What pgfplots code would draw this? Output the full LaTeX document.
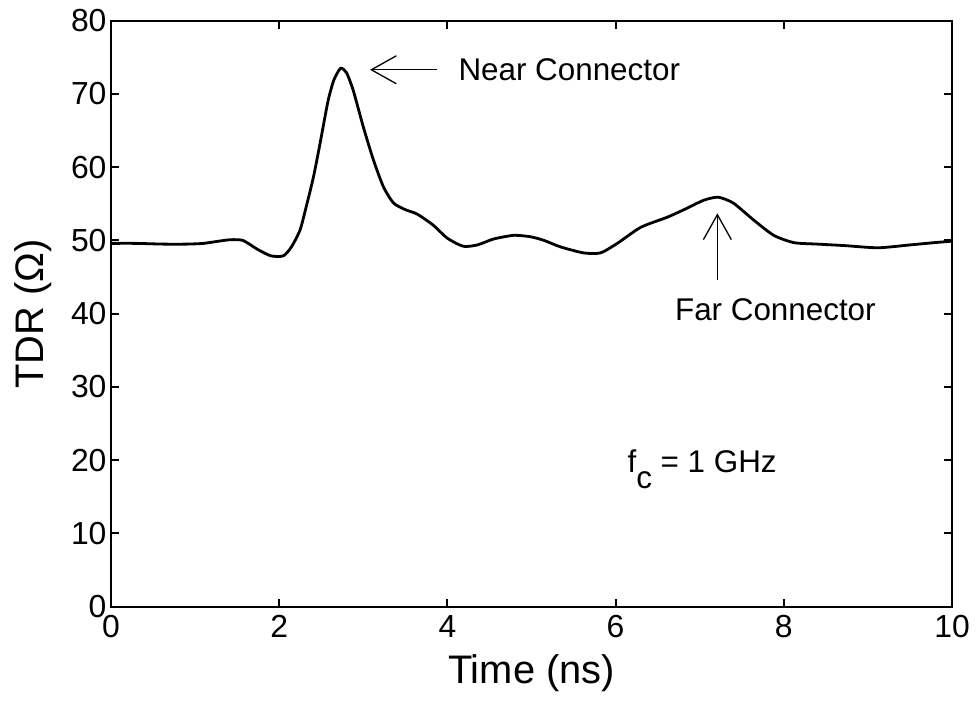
\documentclass[border=0pt]{standalone}
\usepackage{pgfplots}
\pgfplotsset{compat=1.18}
\usepackage{fontspec}
\setmainfont{Liberation Sans}
\usetikzlibrary{arrows.meta}
\begin{document}
\begin{tikzpicture}
\path[use as bounding box] (-111bp,-97.3bp) rectangle (866bp,606.7bp);
\begin{axis}[
  scale only axis, width=841bp, height=586bp,
  at={(0,0)}, anchor=south west,
  xmin=0, xmax=10, ymin=0, ymax=80,
  xtick={0,2,...,10}, ytick={0,10,...,80},
  tick align=inside, major tick length=8bp,
  axis line style={line width=2.2bp},
  every tick/.style={black, line width=2bp},
  tick label style={font=\fontsize{32}{35}\selectfont},
  /pgf/number format/assume math mode=true,
  xlabel={Time (ns)}, ylabel={TDR (Ω)},
  label style={font=\fontsize{40}{44}\selectfont},
  xlabel style={yshift=-10bp},
  ylabel style={yshift=12bp},
  xticklabel style={yshift=-5bp},
  yticklabel style={xshift=-1bp},
  clip=false,
]
\addplot[black, line width=2.8bp, smooth, tension=0.4] coordinates {
(0.00,49.6) (0.30,49.6) (0.62,49.5) (0.90,49.5) (1.10,49.6) (1.28,49.9) (1.42,50.1) (1.57,50.0)
(1.74,48.8) (1.90,47.9) (2.05,47.9) (2.15,49.2) (2.25,51.5) (2.33,55.0)
(2.41,58.8) (2.49,63.5) (2.58,69.0) (2.65,71.9) (2.73,73.5) (2.80,72.9)
(2.88,70.5) (3.00,65.5) (3.12,61.0) (3.24,57.3) (3.36,55.1) (3.50,54.2)
(3.64,53.6) (3.83,52.1) (4.00,50.3) (4.19,49.2) (4.36,49.4) (4.55,50.2)
(4.79,50.7) (4.99,50.5) (5.15,50.0) (5.35,49.1) (5.62,48.3) (5.82,48.3)
(6.02,49.6) (6.30,51.8) (6.62,53.2) (6.85,54.4) (7.05,55.5) (7.22,55.9)
(7.40,55.1) (7.64,52.8) (7.88,50.7) (8.12,49.7) (8.40,49.5) (8.72,49.3)
(9.12,49.0) (9.51,49.4) (9.79,49.7) (10.00,49.9)
};
\draw[-{Straight Barb[length=25bp,width=28bp]}, line width=1.3bp] (axis cs:3.88,73.3) -- (axis cs:3.08,73.3);
\node[anchor=west, font=\fontsize{31.5}{34}\selectfont, inner sep=0pt] at (axis cs:4.13,73.3) {Near Connector};
\draw[-{Straight Barb[length=25bp,width=28bp]}, line width=1.3bp] (axis cs:7.21,44.6) -- (axis cs:7.21,53.7);
\node[font=\fontsize{31.5}{34}\selectfont, inner sep=0pt] at (axis cs:7.9,40.5) {Far Connector};
\node[anchor=base west, font=\fontsize{31.5}{34}\selectfont, inner sep=0pt] at (axis cs:6.14,18.3) {f\raisebox{-0.5em}{c} = 1 GHz};
\end{axis}
\end{tikzpicture}
\end{document}
